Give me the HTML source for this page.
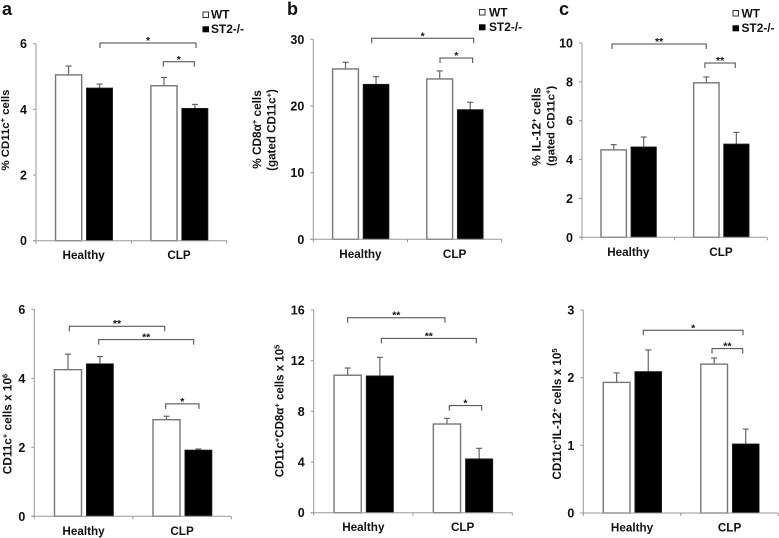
<!DOCTYPE html>
<html>
<head>
<meta charset="utf-8">
<style>
html,body{margin:0;padding:0;background:#fff;width:779px;height:538px;overflow:hidden}
svg{display:block;font-family:"Liberation Sans",sans-serif;font-weight:bold;fill:#111;filter:blur(0.3px)}
</style>
</head>
<body>
<svg id="fig" width="779" height="538" viewBox="0 0 779 538" xmlns="http://www.w3.org/2000/svg">
  <rect x="0" y="0" width="779" height="538" fill="#fff"/>

  <text x="2" y="15" font-size="18">a</text>
  <text x="287" y="15" font-size="18">b</text>
  <text x="559" y="15" font-size="18">c</text>

  <g font-size="11.9">
    <rect x="203" y="12" width="5.5" height="5.5" fill="#fff" stroke="#333" stroke-width="1"/>
    <text x="211" y="18.5">WT</text>
    <rect x="202.5" y="26.3" width="6.5" height="6" fill="#000"/>
    <text x="211" y="33">ST2-/-</text>
  </g>
  <g font-size="11.9">
    <rect x="479.5" y="9.5" width="5.5" height="5.5" fill="#fff" stroke="#333" stroke-width="1"/>
    <text x="489" y="16.5">WT</text>
    <rect x="479" y="24.3" width="6.5" height="6" fill="#000"/>
    <text x="489" y="31">ST2-/-</text>
  </g>
  <g font-size="11.9">
    <rect x="733" y="10.5" width="5.5" height="5.5" fill="#fff" stroke="#333" stroke-width="1"/>
    <text x="741.5" y="17.5">WT</text>
    <rect x="732.5" y="25.3" width="6.5" height="6" fill="#000"/>
    <text x="741.5" y="32">ST2-/-</text>
  </g>

  <text font-size="11.4" text-anchor="middle" transform="translate(9,130) rotate(-90)">% CD11c<tspan font-size="7.5" dy="-4">+</tspan><tspan dy="4"> cells</tspan></text>

  <text font-size="11.8" text-anchor="middle" transform="translate(261,129.5) rotate(-90)">% CD8α<tspan font-size="7.5" dy="-4">+</tspan><tspan dy="4"> cells</tspan></text>
  <text font-size="11.6" text-anchor="middle" transform="translate(275.5,130) rotate(-90)">(gated CD11c<tspan font-size="7.5" dy="-4">+</tspan><tspan dy="4">)</tspan></text>

  <text font-size="12.4" text-anchor="middle" transform="translate(540.7,126.7) rotate(-90)">% IL-12<tspan font-size="7.5" dy="-4">+</tspan><tspan dy="4"> cells</tspan></text>
  <text font-size="11.4" text-anchor="middle" transform="translate(554.7,126) rotate(-90)">(gated CD11c<tspan font-size="7.5" dy="-4">+</tspan><tspan dy="4">)</tspan></text>

  <text font-size="11.8" text-anchor="middle" transform="translate(11.7,424) rotate(-90)">CD11c<tspan font-size="7.5" dy="-4">+</tspan><tspan dy="4"> cells x 10</tspan><tspan font-size="7.5" dy="-4">6</tspan></text>

  <text font-size="11.5" text-anchor="middle" transform="translate(283.3,411) rotate(-90)">CD11c<tspan font-size="7.5" dy="-4">+</tspan><tspan dy="4">CD8α</tspan><tspan font-size="7.5" dy="-4">+</tspan><tspan dy="4"> cells x 10</tspan><tspan font-size="7.5" dy="-4">5</tspan></text>

  <text font-size="11.7" text-anchor="middle" transform="translate(561,414) rotate(-90)">CD11c<tspan font-size="7.5" dy="-4">+</tspan><tspan dy="4">IL-12</tspan><tspan font-size="7.5" dy="-4">+</tspan><tspan dy="4"> cells x 10</tspan><tspan font-size="7.5" dy="-4">5</tspan></text>
</svg>

<script>
// Shared categories
const categories = ['Healthy', 'CLP'];

// Panel a: % CD11c+ cells
const aTicks = [0, 2, 4, 6];
const aWT = [5.05, 4.72];
const aST2 = [4.65, 4.03];
const aWTUpper = [5.32, 4.97];
const aST2Upper = [4.77, 4.15];
const aBrackets = [
  { from: 0.671, to: 1.678, level: 6.02, label: '*' },
  { from: 1.335, to: 1.660, level: 5.45, label: '*' }
];

// Panel b: % CD8a+ cells
const bTicks = [0, 10, 20, 30];
const bWT = [25.55, 24.05];
const bST2 = [23.25, 19.45];
const bWTUpper = [26.55, 25.25];
const bST2Upper = [24.4, 20.55];
const bBrackets = [
  { from: 0.620, to: 1.703, level: 30.15, label: '*' },
  { from: 1.345, to: 1.692, level: 27.2, label: '*' }
];

// Panel c: % IL-12+ cells
const cTicks = [0, 2, 4, 6, 8, 10];
const cWT = [4.5, 7.95];
const cST2 = [4.65, 4.8];
const cWTUpper = [4.77, 8.25];
const cST2Upper = [5.16, 5.4];
const cBrackets = [
  { from: 0.324, to: 1.341, level: 9.95, label: '**' },
  { from: 1.327, to: 1.654, level: 8.97, label: '**' }
];

// Panel d: CD11c+ cells x 10^6
const dTicks = [0, 2, 4, 6];
const dWT = [4.25, 2.8];
const dST2 = [4.42, 1.92];
const dWTUpper = [4.7, 2.9];
const dST2Upper = [4.63, 1.95];
const dBrackets = [
  { from: 0.355, to: 1.324, level: 5.51, label: '**' },
  { from: 0.654, to: 1.618, level: 5.12, label: '**' },
  { from: 1.334, to: 1.672, level: 3.26, label: '*' }
];

// Panel e: CD11c+CD8a+ cells x 10^5
const eTicks = [0, 4, 8, 12, 16];
const eWT = [10.85, 7.0];
const eST2 = [10.8, 4.25];
const eWTUpper = [11.42, 7.45];
const eST2Upper = [12.26, 5.08];
const eBrackets = [
  { from: 0.342, to: 1.322, level: 15.39, label: '**' },
  { from: 0.681, to: 1.637, level: 13.76, label: '**' },
  { from: 1.365, to: 1.692, level: 8.45, label: '*' }
];

// Panel f: CD11c+IL-12+ cells x 10^5
const fTicks = [0, 1, 2, 3];
const fWT = [1.93, 2.2];
const fST2 = [2.09, 1.02];
const fWTUpper = [2.07, 2.29];
const fST2Upper = [2.41, 1.24];
const fBrackets = [
  { from: 0.615, to: 1.638, level: 2.70, label: '*' },
  { from: 1.320, to: 1.635, level: 2.43, label: '**' }
];

const NS = 'http://www.w3.org/2000/svg';
const fig = document.getElementById('fig');

function mk(parent, tag, attrs) {
  const el = document.createElementNS(NS, tag);
  for (const k in attrs) el.setAttribute(k, attrs[k]);
  parent.appendChild(el);
  return el;
}

function drawPanel(id, box, ticks, wt, st2, wtUpper, st2Upper, brackets) {
  const yMax = ticks[ticks.length - 1];
  const band = (box.right - box.left) / categories.length;
  const yScale = v => box.zero - (v / yMax) * (box.zero - box.top);
  const bandX = u => box.left + u * band;
  const barW = 0.274 * band;
  const barX = (c, s) => bandX(c) + (0.205 + s * (0.274 + 0.05)) * band;

  const g = mk(fig, 'g', {});
  
  

  // bars + error bars
  [wt, st2].forEach((series, s) => {
    const upper = s === 0 ? wtUpper : st2Upper;
    series.forEach((v, c) => {
      const x = barX(c, s);
      const cx = x + barW / 2;
      const stem = mk(g, 'line', { x1: cx, x2: cx, y1: yScale(v), y2: yScale(upper[c]), stroke: '#666', 'stroke-width': 1.2 });
      
      
      const cap = mk(g, 'line', { x1: cx - 3, x2: cx + 3, y1: yScale(upper[c]), y2: yScale(upper[c]), stroke: '#666', 'stroke-width': 1.2 });
      
      
      const bar = mk(g, 'rect', {
        x: x, y: yScale(v), width: barW, height: box.zero - yScale(v),
        fill: s === 0 ? '#fff' : '#000',
        stroke: s === 0 ? '#777' : '#222',
        'stroke-width': s === 0 ? 1.4 : 0.8
      });
      
      
    });
  });

  // y axis
  const yAxis = mk(g, 'line', { x1: box.left, x2: box.left, y1: box.top, y2: box.zero, stroke: '#999', 'stroke-width': 1 });
  
  
  ticks.forEach(t => {
    const y = yScale(t);
    const tick = mk(g, 'line', { x1: box.left - 3, x2: box.left, y1: y, y2: y, stroke: '#999', 'stroke-width': 1 });
    
    
    const lab = mk(g, 'text', { x: box.left - 9, y: y + 4.5, 'text-anchor': 'end', 'font-size': 12.5 });
    
    
    lab.textContent = t;
  });

  // x axis
  const xAxis = mk(g, 'line', { x1: box.left - 3, x2: box.right, y1: box.zero, y2: box.zero, stroke: '#999', 'stroke-width': 1 });
  
  
  for (let i = 0; i <= categories.length; i++) {
    const tick = mk(g, 'line', { x1: bandX(i), x2: bandX(i), y1: box.zero, y2: box.zero + 3, stroke: '#999', 'stroke-width': 1 });
    
    
  }
  categories.forEach((name, c) => {
    const lab = mk(g, 'text', { x: bandX(c + 0.5), y: box.zero + 18.5, 'text-anchor': 'middle', 'font-size': 11.7 });
    
    
    lab.textContent = name;
  });

  // significance brackets
  brackets.forEach(b => {
    const x1 = bandX(b.from), x2 = bandX(b.to), y = yScale(b.level);
    const path = mk(g, 'path', { d: 'M' + x1 + ' ' + (y + 5) + 'V' + y + 'H' + x2 + 'V' + (y + 5), fill: 'none', stroke: '#444', 'stroke-width': 1 });
    
    
    const star = mk(g, 'text', { x: (x1 + x2) / 2, y: y + 1, 'text-anchor': 'middle', 'font-size': 10.5 });
    
    
    star.textContent = b.label;
  });
}

drawPanel('a', { left: 36, right: 226.7, top: 43.7, zero: 240.7 }, aTicks, aWT, aST2, aWTUpper, aST2Upper, aBrackets);
drawPanel('b', { left: 313.3, right: 501.7, top: 39.3, zero: 239.3 }, bTicks, bWT, bST2, bWTUpper, bST2Upper, bBrackets);
drawPanel('c', { left: 582, right: 767.3, top: 43, zero: 237.3 }, cTicks, cWT, cST2, cWTUpper, cST2Upper, cBrackets);
drawPanel('d', { left: 34.3, right: 231.3, top: 309.3, zero: 516.3 }, dTicks, dWT, dST2, dWTUpper, dST2Upper, dBrackets);
drawPanel('e', { left: 313.7, right: 512.3, top: 310, zero: 512.7 }, eTicks, eWT, eST2, eWTUpper, eST2Upper, eBrackets);
drawPanel('f', { left: 583.3, right: 778.3, top: 310, zero: 513 }, fTicks, fWT, fST2, fWTUpper, fST2Upper, fBrackets);
</script>
</body>
</html>
